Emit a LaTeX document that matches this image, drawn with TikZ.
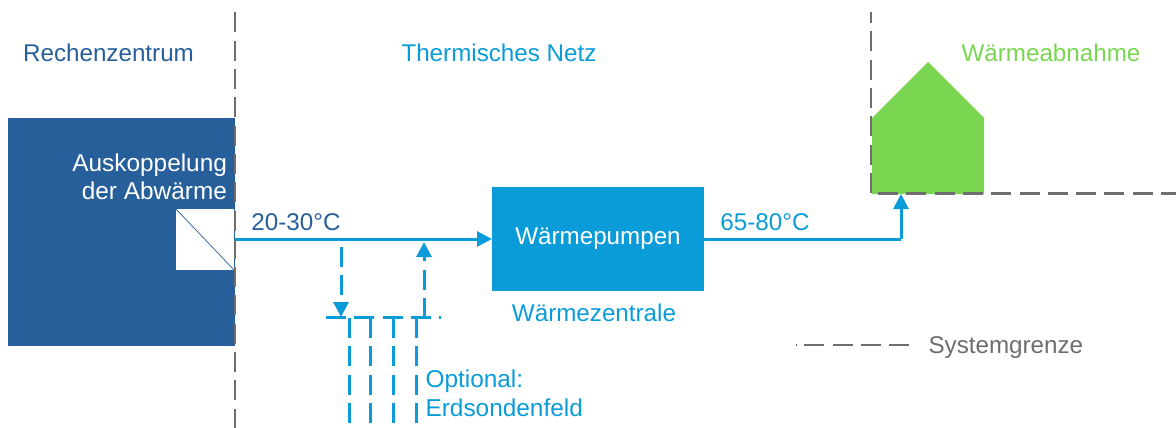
\documentclass[tikz,border=0pt]{standalone}
\usepackage{fontspec}
\setmainfont{Liberation Sans}
\usepackage{tikz}
\usetikzlibrary{arrows.meta,positioning}
\definecolor{rzblue}{HTML}{265F99}
\definecolor{netblue}{HTML}{0A9CD8}
\definecolor{housegreen}{HTML}{7AD651}
\definecolor{limitgray}{HTML}{6E6E6E}

\begin{document}
\begin{tikzpicture}[x=1pt,y=-1pt,font=\fontsize{24.2}{29}\selectfont]
        \tikzstyle{box}=[rectangle, inner sep=0pt, outer sep=0pt]
        \tikzstyle{flow}=[draw=netblue, line width=3pt]
        \tikzstyle{flowdash}=[flow, dash pattern=on 20pt off 8.3pt]
        \tikzstyle{limit}=[draw=limitgray, line width=2.8pt, dash pattern=on 20pt off 8.3pt]
        \tikzstyle{tip}=[-{Triangle[length=15pt,width=15pt]}]
        \useasboundingbox (0,0) rectangle (1176,428);

        % Rechenzentrum
        \node (rz) [box, fill=rzblue, minimum width=227pt, minimum height=228pt, anchor=north west] at (8,118) {};
        \node (wt) [box, fill=white, minimum width=58pt, minimum height=61pt, anchor=north west] at (176,209) {};
        \draw[rzblue, line width=0.7pt] (wt.north west) -- (wt.south east);
        \node (rztitle) [text=rzblue] at (108.5,53) {Rechenzentrum};
        \node (auskopplung) [align=right, text=white, anchor=east, font=\fontsize{24.4}{28}\selectfont] at (230.5,177) {Auskoppelung\\der Abwärme};

        % Thermisches Netz
        \node (nettitle) [text=netblue] at (499,53) {Thermisches Netz};
        \node (wp) [box, fill=netblue, text=white, minimum width=212pt, minimum height=104pt, anchor=north west] at (492,187) {\raisebox{-4pt}{Wärmepumpen}};
        \node (wz) [text=netblue, below = 9pt of wp, xshift=-4pt] {Wärmezentrale};
        \node (t20) [text=rzblue] at (296,222) {20-30°C};
        \node (t65) [text=netblue] at (765,222) {65-80°C};

        % Wärmeabnahme
        \node (abtitle) [text=housegreen] at (1051,53) {Wärmeabnahme};
        \path[fill=housegreen] (872,118) -- (928,62) -- (984,118) -- (984,194) -- (872,194) -- cycle;
        \coordinate (house) at (901,194);

        % Systemgrenze
        \coordinate (g1a) at (235,12.4);
        \coordinate (g1b) at (235,428);
        \coordinate (g2a) at (871,193);
        \coordinate (g2b) at (871,12);
        \coordinate (g2c) at (878,193.5);
        \coordinate (g2d) at (1176,193.5);
        \coordinate (lega) at (795.5,345);
        \coordinate (legb) at (909,345);
        \node (legend) [text=limitgray, anchor=west] at (925,347.5) {Systemgrenze};
        \draw[limit] (g1a) -- (g1b);
        \draw[limit] (g2a) -- (g2b);
        \draw[limit] (g2c) -- (g2d);
        \draw[limit, dash phase=19.5pt] (lega) -- (legb);

        % Erdsondenfeld
        \coordinate (fa) at (326,317);
        \coordinate (fb) at (441,317);
        \coordinate (down) at (341,317);
        \coordinate (downtop) at (341,247);
        \coordinate (up) at (424,318);
        \coordinate (uptop) at (424,242);
        \coordinate (s1) at (349,318);
        \coordinate (s2) at (370.5,318);
        \coordinate (s3) at (393.5,318);
        \coordinate (s4) at (416.7,318);
        \node (optional) [text=netblue, align=left, anchor=west, font=\fontsize{24.4}{29}\selectfont] at (422,393) {Optional:\\Erdsondenfeld};
        \draw[flowdash] (fa) -- (fb);
        \foreach \s in {s1,s2,s3,s4}
            \draw[flowdash] (\s) -- ++(0,105);

        % Arrows
        \coordinate (out) at (235,239);
        \coordinate (corner) at (901,239);
        \draw[flow, tip] (out) -- (wp.west |- out);
        \draw[flow] (wp.east |- out) -- (corner);
        \draw[flow, tip] (corner) -- (house);
        \draw[flowdash, tip] (downtop) -- (down);
        \draw[flowdash, tip] (up) -- (uptop);
    \end{tikzpicture}
\end{document}
